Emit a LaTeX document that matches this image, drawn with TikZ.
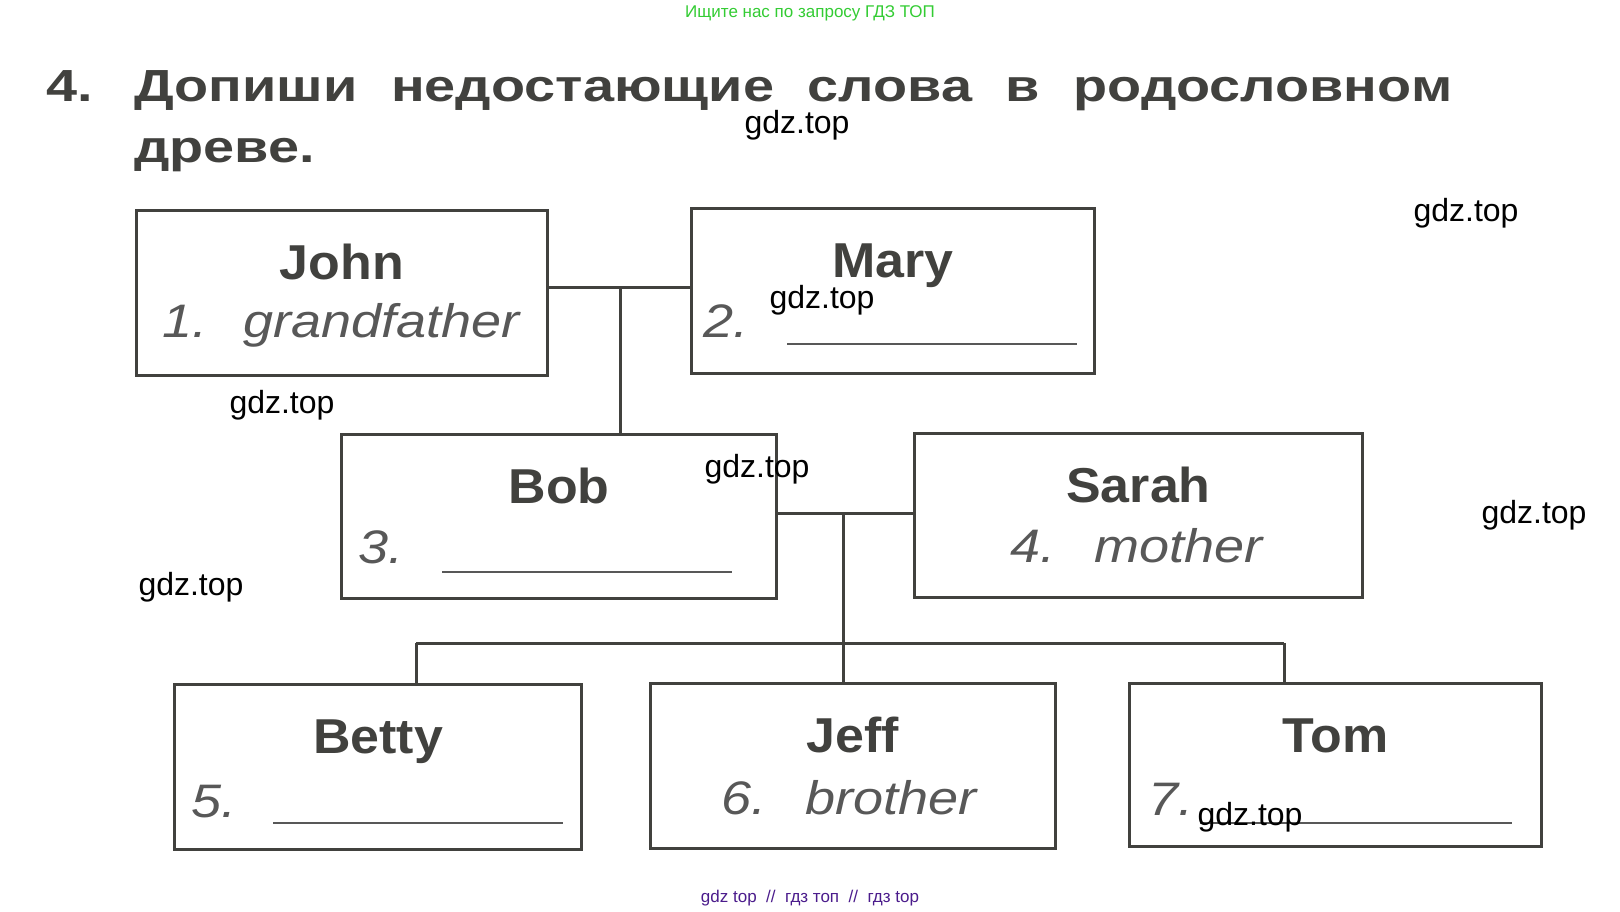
\documentclass[tikz,border=0pt]{standalone}
\usepackage{fontspec}
\setmainfont{Liberation Sans}
\newfontfamily\headfont[FakeStretch=1.24]{Liberation Sans}
\newfontfamily\namefont[FakeStretch=1.06]{Liberation Sans}
\newfontfamily\answerfont[FakeStretch=1.15]{Liberation Sans}
\usetikzlibrary{positioning}

\definecolor{ink}{HTML}{41413E}
\definecolor{pencil}{HTML}{585858}
\definecolor{markgreen}{HTML}{33CC33}
\definecolor{markpurple}{HTML}{4B1C8C}

\begin{document}
\begin{tikzpicture}[x=1pt,y=-1pt,
  person/.style={draw=ink,line width=3pt,inner sep=0pt,anchor=north west},
  kin/.style={font=\namefont\bfseries\fontsize{49}{55}\selectfont,text=ink,inner sep=0pt,anchor=base},
  answer/.style={font=\answerfont\itshape\fontsize{47}{52}\selectfont,text=pencil,inner sep=0pt,anchor=base west},
  blank/.style={draw=pencil,line width=2.5pt},
  tie/.style={draw=ink,line width=3pt},
  heading/.style={font=\headfont\bfseries\fontsize{45}{50}\selectfont,text=ink,inner sep=0pt,anchor=base west},
  wm/.style={font=\fontsize{32}{36}\selectfont,text=black,inner sep=0pt,anchor=base}]
  \fill[white] (0,0) rectangle (1620,911);
  \useasboundingbox (0,0) rectangle (1620,911);

  \node[font=\fontsize{17}{20}\selectfont,text=markgreen,anchor=base] (ad) at (810,17) {Ищите нас по запросу ГДЗ ТОП};

  \node[heading] (num) at (46,101) {4.};
  \node[heading] (task) at (134,101) {\makebox[1318pt][s]{Допиши недостающие слова в родословном}};
  \node[heading] (task2) at (134,162) {древе.};

  \node[person,minimum width=411pt,minimum height=165pt] (john) at (135,209) {};
  \node[person,minimum width=403pt,minimum height=165pt] (mary) at (690,207) {};
  \node[person,minimum width=435pt,minimum height=164pt] (bob) at (340,433) {};
  \node[person,minimum width=448pt,minimum height=164pt] (sarah) at (913,432) {};
  \node[person,minimum width=407pt,minimum height=165pt] (betty) at (173,683) {};
  \node[person,minimum width=405pt,minimum height=165pt] (jeff) at (649,682) {};
  \node[person,minimum width=412pt,minimum height=163pt] (tom) at (1128,682) {};

  \node[kin] (johnname) at ([yshift=-70pt]john.north) {John};
  \node[kin] (maryname) at ([yshift=-70pt]mary.north) {Mary};
  \node[kin] (bobname) at ([yshift=-70pt]bob.north) {Bob};
  \node[kin] (sarahname) at ([yshift=-70pt]sarah.north) {Sarah};
  \node[kin] (bettyname) at ([yshift=-70pt]betty.north) {Betty};
  \node[kin] (jeffname) at ([yshift=-70pt]jeff.north) {Jeff};
  \node[kin] (tomname) at ([yshift=-70pt]tom.north) {Tom};

  \node[answer] (n1) at (162,337) {1.};
  \node[answer] (a1) at (243,337) {grandfather};
  \node[answer] (n2) at (703,337) {2.};
  \draw[blank] (787,344) -- (1077,344);
  \node[answer] (n3) at (358,563) {3.};
  \draw[blank] (442,572) -- (732,572);
  \node[answer] (n4) at (1010,562) {4.};
  \node[answer] (a4) at (1094,562) {mother};
  \node[answer] (n5) at (191,817) {5.};
  \draw[blank] (273,823) -- (563,823);
  \node[answer] (n6) at (721,814) {6.};
  \node[answer] (a6) at (805,814) {brother};
  \node[answer] (n7) at (1148,815) {7.};
  \draw[blank] (1200,823) -- (1512,823);

  \coordinate (jm) at (620,287);
  \draw[tie] (john.east |- jm) -- (mary.west |- jm);
  \draw[tie] (jm) -- (bob.north -| jm);
  \coordinate (bs) at (843,513);
  \draw[tie] (bob.east |- bs) -- (sarah.west |- bs);
  \draw[tie] (bs) -- (jeff.north -| bs);
  \coordinate (kb) at (416,643);
  \coordinate (kt) at (1284,643);
  \draw[tie] (kb) -- (kt);
  \draw[tie] (kb) -- (betty.north -| kb);
  \draw[tie] (kt) -- (tom.north -| kt);

  \node[wm] (w1) at (797,133) {gdz.top};
  \node[wm] (w2) at (1466,221) {gdz.top};
  \node[wm] (w3) at (822,308) {gdz.top};
  \node[wm] (w4) at (282,413) {gdz.top};
  \node[wm] (w5) at (757,477) {gdz.top};
  \node[wm] (w6) at (1534,523) {gdz.top};
  \node[wm] (w7) at (191,595) {gdz.top};
  \node[wm] (w8) at (1250,825) {gdz.top};

  \node[font=\fontsize{17}{20}\selectfont,text=markpurple,anchor=base] (foot) at (810,902) {gdz top \ // \ гдз топ \ // \ гдз top};
\end{tikzpicture}
\end{document}
